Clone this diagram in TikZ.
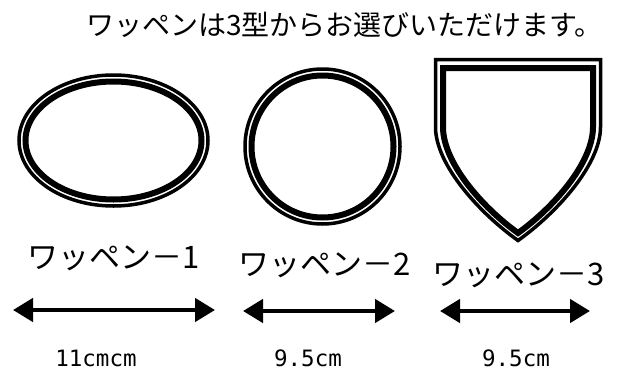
\documentclass[tikz,border=0pt]{standalone}
\usepackage{fontspec}
\usetikzlibrary{arrows.meta}
\newfontfamily\jpfont{Noto Sans CJK JP}
\newfontfamily\sizefont{DejaVu Sans Mono}
\tikzset{
  ringouter/.style={draw=black, line width=3.5pt},
  ringinner/.style={draw=black, line width=6pt},
  titletext/.style={inner sep=0pt, font=\jpfont\fontsize{28}{28}\selectfont, anchor=base west},
  wlabel/.style={inner sep=0pt, font=\jpfont\fontsize{31}{31}\selectfont, anchor=base},
  sizetext/.style={inner sep=0pt, font=\sizefont\fontsize{22.5}{22.5}\selectfont, anchor=base},
  dimarrow/.style={line width=4.5pt, {Triangle[length=20pt,width=23pt]}-{Triangle[length=20pt,width=23pt]}}
}
\begin{document}
\begin{tikzpicture}[x=1pt, y=-1pt]
\useasboundingbox[fill=white] (0,0) rectangle (617,372);

% title
\node[titletext] (title) at (86,35) {ワッペンは3型からお選びいただけます。};

% oval
\draw[ringouter] (113.5,140.5) ellipse [x radius=94.5, y radius=65.5];
\draw[ringinner] (113.5,140.5) ellipse [x radius=88, y radius=59];

% circle
\draw[ringouter] (322.5,146.5) circle [radius=77.5];
\draw[ringinner] (322.5,146.5) circle [radius=71];

% shield
\draw[ringouter, line join=miter] (435.5,127) -- (435.5,59.5) -- (600.5,59.5) -- (600.5,127)
  .. controls (600.5,165) and (556,213.5) .. (518,240.5)
  .. controls (480,213.5) and (435.5,165) .. cycle;
\draw[ringinner, line join=miter] (443,127) -- (443,68) -- (593,68) -- (593,127)
  .. controls (593,163) and (553,208) .. (518,233)
  .. controls (483,208) and (443,163) .. cycle;

% labels
\node[wlabel] (l1) at (114,268.5) {ワッペン－1};
\node[wlabel] (l2) at (325,275) {ワッペン－2};
\node[wlabel] (l3) at (519,285) {ワッペン－3};

% arrows
\coordinate (a1l) at (13,310);
\coordinate (a1r) at (215,310);
\coordinate (a2l) at (243,311);
\coordinate (a2r) at (395,311);
\coordinate (a3l) at (440,311);
\coordinate (a3r) at (590,311);
\draw[dimarrow] (a1l) -- (a1r);
\draw[dimarrow] (a2l) -- (a2r);
\draw[dimarrow] (a3l) -- (a3r);

% sizes
\node[sizetext] (s1) at (96,366) {11cmcm};
\node[sizetext] (s2) at (308,366) {9.5cm};
\node[sizetext] (s3) at (516,366) {9.5cm};
\end{tikzpicture}
\end{document}
